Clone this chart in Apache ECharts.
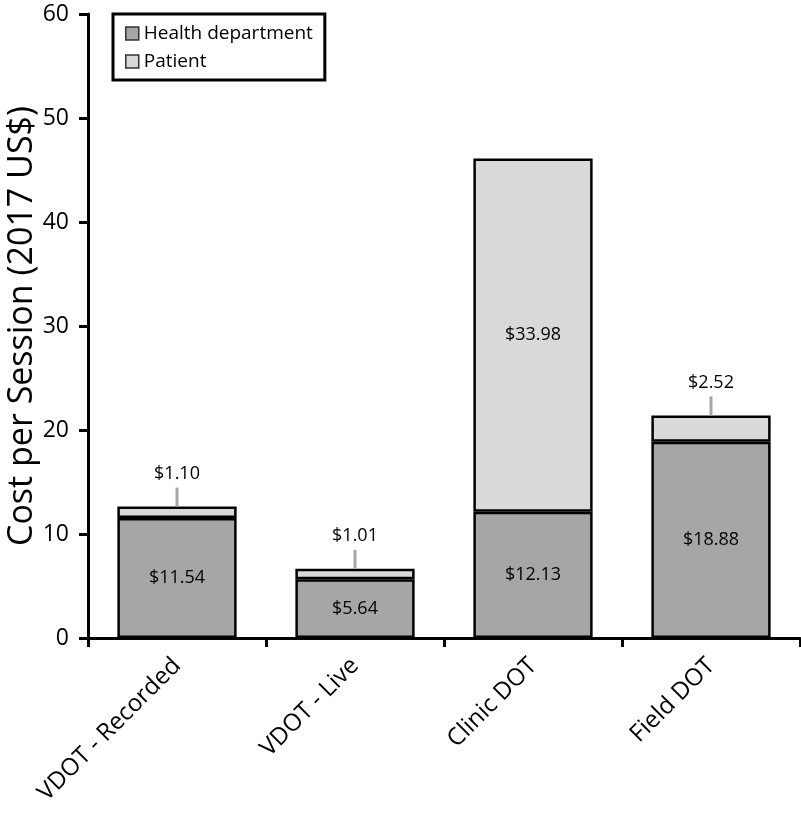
<!DOCTYPE html>
<html><head><meta charset="utf-8">
<script src="https://cdn.jsdelivr.net/npm/echarts@6/dist/echarts.min.js"></script>
<style>html,body{margin:0;padding:0;background:#fff}#c{width:801px;height:820px}</style>
</head><body><div id="c"></div>
<script>
const categories = ['VDOT - Recorded', 'VDOT - Live', 'Clinic DOT', 'Field DOT'];
const healthDept = [11.54, 5.64, 12.13, 18.88];
const patient = [1.10, 1.01, 33.98, 2.52];
const patientLabelOutside = [true, true, false, true];
const yTicks = [0, 10, 20, 30, 40, 50, 60];
const FONT = '"Open Sans", "Noto Sans", sans-serif';

const chart = echarts.init(document.getElementById('c'), null, {renderer: 'canvas'});
const fmt = v => '$' + v.toFixed(2);

const patientData = patient.map((v, i) => {
  const item = {value: v};
  if (patientLabelOutside[i]) {
    item.label = {
      show: true, position: 'top', distance: 0,
      formatter: p => '{v|' + fmt(p.value) + '}\n{l|}',
      rich: {
        v: {fontSize: 18, color: '#000', fontFamily: FONT, lineHeight: 28, align: 'center'},
        l: {width: 3, height: 19, backgroundColor: '#a6a6a6', align: 'center'}
      }
    };
  }
  return item;
});

chart.setOption({
  animation: false,
  textStyle: {fontFamily: FONT},
  grid: {left: 88, right: 1, top: 14, bottom: 182, containLabel: false, outerBoundsMode: 'none'},
  legend: {
    orient: 'vertical', left: 113, top: 14,
    borderColor: '#000', borderWidth: 3, padding: [10, 12, 9, 12],
    itemWidth: 13, itemHeight: 13, itemGap: 9,
    textStyle: {fontSize: 19, color: '#000', fontFamily: FONT},
    data: [
      {name: 'Health department', icon: 'rect', itemStyle: {borderColor: '#333', borderWidth: 1.5}},
      {name: 'Patient', icon: 'rect', itemStyle: {borderColor: '#333', borderWidth: 1.5}}
    ]
  },
  xAxis: {
    type: 'category', data: categories,
    axisLine: {lineStyle: {color: '#000', width: 3}},
    axisTick: {show: true, length: 9, lineStyle: {color: '#000', width: 3}},
    axisLabel: {rotate: 45, fontSize: 24, color: '#000', margin: 24, fontFamily: FONT, interval: 0}
  },
  yAxis: {
    type: 'value', min: yTicks[0], max: yTicks[yTicks.length - 1], interval: 10,
    name: 'Cost per Session (2017 US$)', nameLocation: 'middle', nameGap: 49,
    nameMoveOverlap: false,
    nameTextStyle: {fontSize: 34, color: '#000', fontFamily: FONT},
    splitLine: {show: false},
    axisLine: {show: true, lineStyle: {color: '#000', width: 3}},
    axisTick: {show: true, length: 9, lineStyle: {color: '#000', width: 3}},
    axisLabel: {fontSize: 23, color: '#000', margin: 19, fontFamily: FONT}
  },
  series: [
    {
      name: 'Health department', type: 'bar', stack: 'cost', barWidth: '67%',
      data: healthDept,
      itemStyle: {color: '#a6a6a6', borderColor: '#000', borderWidth: 2.5},
      label: {show: true, position: 'inside', formatter: p => fmt(p.value), fontSize: 18, color: '#000', fontFamily: FONT}
    },
    {
      name: 'Patient', type: 'bar', stack: 'cost', barWidth: '67%',
      data: patientData,
      itemStyle: {color: '#d9d9d9', borderColor: '#000', borderWidth: 2.5},
      label: {show: true, position: 'inside', formatter: p => fmt(p.value), fontSize: 18, color: '#000', fontFamily: FONT}
    }
  ]
});
</script></body></html>
